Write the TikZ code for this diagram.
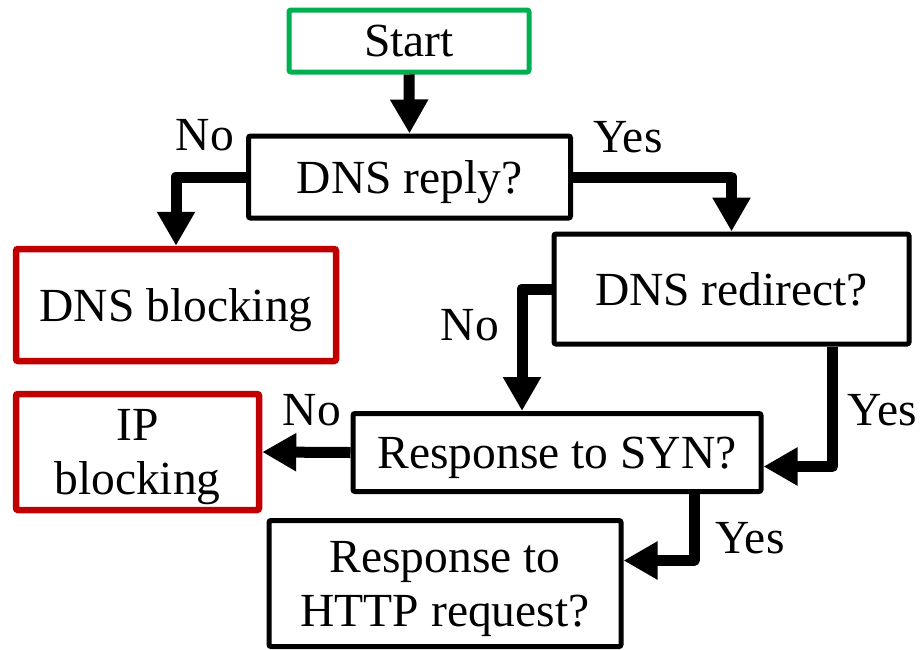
\documentclass[tikz,border=0pt]{standalone}
\usepackage{fontspec}
\setmainfont{Liberation Serif}
\usetikzlibrary{arrows.meta}
\definecolor{startgreen}{RGB}{0,176,80}
\definecolor{blockred}{RGB}{192,0,0}
\begin{document}
\begin{tikzpicture}[x=1pt,y=-1pt,
  font=\fontsize{47.5}{54}\selectfont,
  box/.style={draw=black,line width=5pt,rounded corners=2pt,inner sep=0pt,
    align=center,text depth=0pt},
  startbox/.style={box,draw=startgreen},
  endbox/.style={box,draw=blockred,line width=6.5pt},
  conn/.style={line width=11pt,line join=round,
    -{Triangle[width=36pt,length=34pt]}},
  lbl/.style={inner sep=0pt}]
\useasboundingbox (0,0) rectangle (920,649);

% decision and result boxes
\node[startbox,minimum width=240pt,minimum height=62pt] (start) at (409,41) {Start};
\node[box,minimum width=322pt,minimum height=82pt] (reply) at (409.5,177) {DNS reply?};
\node[endbox,minimum width=320pt,minimum height=112pt] (dnsblock) at (176,305) {DNS blocking};
\node[box,minimum width=355pt,minimum height=110pt] (redirect) at (731.5,289) {DNS redirect?};
\node[box,minimum width=408pt,minimum height=78pt] (syn) at (557,452.5) {Response to SYN?};
\node[endbox,minimum width=243pt,minimum height=116pt] (ipblock) at (137.5,452) {IP\\blocking};
\node[box,minimum width=352pt,minimum height=126pt] (http) at (445,583.5) {Response to\\HTTP request?};

% branch labels
\node[lbl] (noreply) at (205,135) {No};
\node[lbl] (yesreply) at (628,137) {Yes};
\node[lbl] (noredir) at (470,325) {No};
\node[lbl] (yesredir) at (882,410) {Yes};
\node[lbl] (nosyn) at (312,410) {No};
\node[lbl] (yessyn) at (750,538) {Yes};

% connectors
\draw[conn] (start.south) -- (reply.north);
\draw[conn] (reply.west) -| (dnsblock.north);
\draw[conn] (reply.east) -| (redirect.north);
\draw[conn] (redirect.west) -| ([xshift=-35pt]syn.north);
\draw[conn] ([xshift=101pt]redirect.south) |- ([yshift=-14pt]syn.east);
\draw[conn] (syn.west) -- (ipblock.east);
\draw[conn] ([xshift=137pt]syn.south) |- ([yshift=23pt]http.east);
\end{tikzpicture}
\end{document}
